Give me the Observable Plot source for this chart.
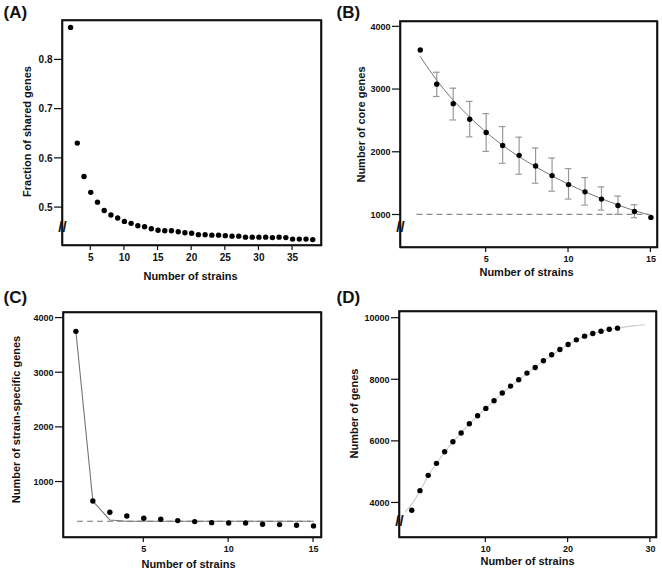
<!DOCTYPE html>
<html><head><meta charset="utf-8">
<script src="https://cdn.jsdelivr.net/npm/d3@7"></script>
<script src="https://cdn.jsdelivr.net/npm/@observablehq/plot@0.6"></script>
<style>
body{margin:0;background:#fff;}
#wrap{display:flex;flex-wrap:wrap;align-items:flex-start;width:662px;height:571px;background:#fff;overflow:hidden}
</style></head><body><div id="wrap"></div>
<script>
// ---------- Panel A: fraction of shared genes ----------
const strainsA = [2,3,4,5,6,7,8,9,10,11,12,13,14,15,16,17,18,19,20,21,22,23,24,25,26,27,28,29,30,31,32,33,34,35,36,37,38];
const sharedFraction = [0.866,0.631,0.563,0.531,0.511,0.494,0.485,0.479,0.472,0.468,0.463,0.461,0.457,0.454,0.453,0.453,0.451,0.449,0.448,0.445,0.445,0.444,0.444,0.443,0.442,0.442,0.440,0.440,0.440,0.440,0.439,0.440,0.439,0.436,0.436,0.436,0.435];
const xTicksA = [5,10,15,20,25,30,35];
const yTicksA = [0.5,0.6,0.7,0.8];
const breakA = [0.463];

// ---------- Panel B: core genes ----------
const strainsB = [1,2,3,4,5,6,7,8,9,10,11,12,13,14,15];
const coreGenes = [3631,3086,2775,2526,2315,2109,1951,1781,1628,1485,1369,1254,1152,1057,962];
const coreHi = [null,3276,3022,2811,2616,2410,2241,2067,1908,1739,1596,1448,1301,1163,null];
const coreLo = [null,2890,2515,2246,2014,1824,1650,1507,1380,1254,1158,1079,1010,957,null];
const coreFit = [3525,3150,2830,2560,2320,2110,1930,1770,1625,1490,1370,1260,1160,1070,995];
const coreFloor = [{y:1010, from:0.8, to:14.9}];
const xTicksB = [5,10,15];
const yTicksB = [1000,2000,3000,4000];
const breakB = [829];

// ---------- Panel C: strain-specific genes ----------
const strainsC = [1,2,3,4,5,6,7,8,9,10,11,12,13,14,15];
const specificGenes = [3757,653,446,379,337,318,294,276,257,251,251,227,221,209,197];
const specificFitX = [1,2,3,4,15];
const specificFitY = [3757,650,306,282,282];
const specificFloor = [{y:282, from:1.1, to:14.85}];
const xTicksC = [5,10,15];
const yTicksC = [1000,2000,3000,4000];

// ---------- Panel D: pan genome ----------
const strainsD = [1,2,3,4,5,6,7,8,9,10,11,12,13,14,15,16,17,18,19,20,21,22,23,24,25,26];
const panGenes = [3762,4400,4897,5286,5665,5989,6270,6573,6832,7070,7319,7568,7795,8000,8216,8400,8616,8811,8984,9146,9297,9416,9503,9578,9643,9676];
const panFitX = [0.2,1,2,3,4,5,6,7,8,10,12,14,16,18,20,22,24,26,28,29.3];
const panFitY = [3708,3960,4390,4880,5280,5650,5980,6280,6570,7070,7560,8000,8410,8800,9140,9410,9580,9680,9750,9786];
const xTicksD = [10,20,30];
const yTicksD = [4000,6000,8000,10000];
const breakD = [3439];

// ---------- Texts ----------
const panelLetters = ["(A)", "(B)", "(C)", "(D)"];
const xTitles = ["Number of strains", "Number of strains", "Number of strains", "Number of strains"];
const yTitles = ["Fraction of shared genes", "Number of core genes", "Number of strain-specific genes", "Number of genes"];

const FONT = '"Liberation Sans", Arial, Helvetica, sans-serif';
const INK = "#111";
const wrap = document.getElementById("wrap");

function basePlot(o) {
  const box = [{x1: o.xdom[0], x2: o.xdom[1], y1: o.ydom[0], y2: o.ydom[1]}];
  return Plot.plot({
    width: o.width, height: o.height,
    marginLeft: o.ml, marginRight: o.mr, marginTop: o.mt, marginBottom: o.mb,
    x: {type: "linear", domain: o.xdom},
    y: {type: "linear", domain: o.ydom},
    style: {fontFamily: FONT, fontWeight: "bold", fontSize: o.fs + "px", color: INK, background: "#fff"},
    marks: [
      ...o.marks,
      // tick marks drawn as thin filled rects just outside the frame
      Plot.rect(o.yticks, {x1: () => o.xdom[0], x2: () => o.xdom[0], y1: d => d, y2: d => d, insetLeft: -8, insetTop: -0.6, insetBottom: -0.6, fill: INK}),
      Plot.rect(o.xticks, {x1: d => d, x2: d => d, y1: () => o.ydom[0], y2: () => o.ydom[0], insetLeft: -0.6, insetRight: -0.6, insetBottom: -5, fill: INK}),
      Plot.axisX({ticks: o.xticks, tickSize: 0, tickPadding: 8, tickFormat: "d", label: null, fontSize: o.fs}),
      Plot.axisY({ticks: o.yticks, tickSize: 0, tickPadding: 10, tickFormat: o.yfmt, label: null, fontSize: o.fs}),
      ...(o.brk ? [Plot.text(o.brk, {y: d => d, frameAnchor: "left", text: () => "//", textAnchor: "middle", fontSize: 15, fontWeight: "bold", dy: 1})] : []),
      Plot.rect(box, {x1: "x1", x2: "x2", y1: "y1", y2: "y2", fill: "none", stroke: INK, strokeWidth: 1.6}),
      Plot.frame({stroke: INK, strokeWidth: 1.6}),
      Plot.text([panelLetters[o.i]], {text: d => d, frameAnchor: "top-left", textAnchor: "start", lineAnchor: "middle", fontSize: 17, fontWeight: "bold", dx: o.letter[0], dy: o.letter[1]}),
      Plot.text([xTitles[o.i]], {text: d => d, frameAnchor: "bottom", textAnchor: "middle", lineAnchor: "middle", fontSize: 11, fontWeight: "bold", dx: o.xt[0], dy: o.xt[1]}),
      Plot.text([yTitles[o.i]], {text: d => d, frameAnchor: "left", textAnchor: "middle", lineAnchor: "middle", rotate: -90, fontSize: 11, fontWeight: "bold", dx: o.yt[0], dy: o.yt[1]})
    ]
  });
}

// Panel A
const dataA = strainsA.map((x, i) => ({x, y: sharedFraction[i]}));
wrap.appendChild(basePlot({
  i: 0, width: 331, height: 285, ml: 62, mr: 10, mt: 20, mb: 40,
  xdom: [0.8, 39.3], ydom: [0.423, 0.880], xticks: xTicksA, yticks: yTicksA, yfmt: ".1f", fs: 10, brk: breakA,
  letter: [-59, -8], xt: [-1.5, 31], yt: [-35, -1.5],
  marks: [Plot.dot(dataA, {x: "x", y: "y", r: 2.7, fill: "#000", stroke: "none"})]
}));

// Panel B
const dataB = strainsB.map((x, i) => ({x, y: coreGenes[i], hi: coreHi[i], lo: coreLo[i], fit: coreFit[i]}));
const errB = dataB.filter(d => d.hi != null);
wrap.appendChild(basePlot({
  i: 1, width: 331, height: 285, ml: 69, mr: 5, mt: 21, mb: 38,
  xdom: [-0.2, 15.4], ydom: [482, 4085], xticks: xTicksB, yticks: yTicksB, yfmt: "d", fs: 9, brk: breakB,
  letter: [-64, -9], xt: [-2.5, 25], yt: [-39, -10],
  marks: [
    Plot.ruleY(coreFloor, {y: "y", x1: "from", x2: "to", stroke: "#8a8a8a", strokeWidth: 1.3, strokeDasharray: "6,4"}),
    Plot.ruleX(errB, {x: "x", y1: "lo", y2: "hi", stroke: "#999", strokeWidth: 1.2}),
    Plot.ruleY(errB, {y: "hi", x1: d => d.x - 0.2, x2: d => d.x + 0.2, stroke: "#999", strokeWidth: 1.2}),
    Plot.ruleY(errB, {y: "lo", x1: d => d.x - 0.2, x2: d => d.x + 0.2, stroke: "#999", strokeWidth: 1.2}),
    Plot.line(dataB, {x: "x", y: "fit", stroke: "#777", strokeWidth: 1, curve: "catmull-rom"}),
    Plot.dot(dataB, {x: "x", y: "y", r: 2.7, fill: "#000", stroke: "none"})
  ]
}));

// Panel C
const dataC = strainsC.map((x, i) => ({x, y: specificGenes[i]}));
const fitC = specificFitX.map((x, i) => ({x, y: specificFitY[i]}));
wrap.appendChild(basePlot({
  i: 2, width: 331, height: 286, ml: 63, mr: 10, mt: 27, mb: 34,
  xdom: [0.27, 15.47], ydom: [-15, 4102], xticks: xTicksC, yticks: yTicksC, yfmt: "d", fs: 9, brk: null,
  letter: [-60, -15], xt: [-4, 27], yt: [-47, -5.5],
  marks: [
    Plot.ruleY(specificFloor, {y: "y", x1: "from", x2: "to", stroke: "#777", strokeWidth: 1.2, strokeDasharray: "6,4"}),
    Plot.line(fitC, {x: "x", y: "y", stroke: "#777", strokeWidth: 1.1}),
    Plot.dot(dataC, {x: "x", y: "y", r: 2.7, fill: "#000", stroke: "none"})
  ]
}));

// Panel D
const dataD = strainsD.map((x, i) => ({x, y: panGenes[i]}));
const fitD = panFitX.map((x, i) => ({x, y: panFitY[i]}));
wrap.appendChild(basePlot({
  i: 3, width: 331, height: 286, ml: 68, mr: 6, mt: 26, mb: 34,
  xdom: [-0.49, 30.74], ydom: [2878, 10217], xticks: xTicksD, yticks: yTicksD, yfmt: "d", fs: 9, brk: breakD,
  letter: [-63, -14], xt: [-0.5, 24], yt: [-45, -11],
  marks: [
    Plot.line(fitD, {x: "x", y: "y", stroke: "#ccc", strokeWidth: 1.1, curve: "catmull-rom"}),
    Plot.dot(dataD, {x: "x", y: "y", r: 2.7, fill: "#000", stroke: "none"})
  ]
}));
</script></body></html>
